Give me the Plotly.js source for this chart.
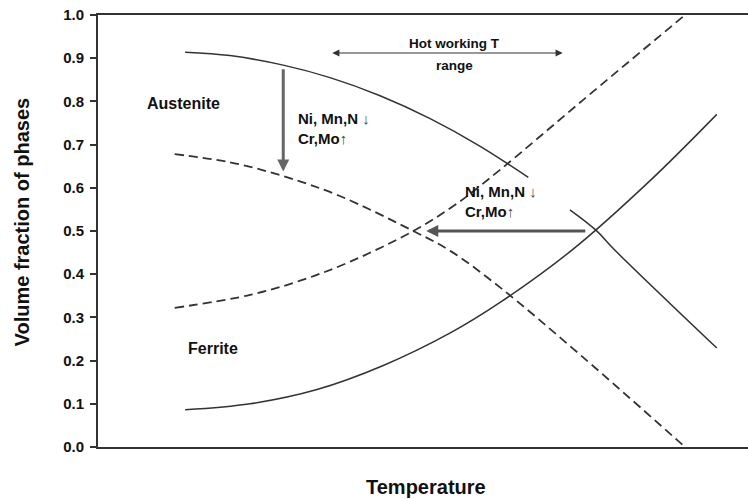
<!DOCTYPE html>
<html>
<head>
<meta charset="utf-8">
<script src="https://cdn.plot.ly/plotly-3.0.1.min.js"></script>
<style>html,body{margin:0;padding:0;background:#fff;}#chart{width:748px;height:499px;}</style>
</head>
<body>
<div id="chart"></div>
<script>
// Temperature in arbitrary units (0-100 across the plot), volume fraction 0-1
const austeniteSolidT1 = [13.4, 20.3, 28.5, 35.7, 43.4, 51.1, 58.8, 66.2];
const austeniteSolidV1 = [0.914, 0.906, 0.884, 0.855, 0.813, 0.760, 0.696, 0.624];
const austeniteSolidT2 = [72.6, 76.6, 79.5, 95.2];
const austeniteSolidV2 = [0.549, 0.502, 0.456, 0.229];
const austeniteDashT = [11.8, 20.3, 28.5, 37.2, 48.5, 54.2, 61.8, 74.6, 90.3];
const austeniteDashV = [0.678, 0.659, 0.627, 0.581, 0.500, 0.454, 0.370, 0.208, 0.0];
const ferriteDashT = [11.8, 23.4, 31.1, 38.8, 48.5, 54.9, 61.8, 74.6, 90.3];
const ferriteDashV = [0.322, 0.352, 0.385, 0.429, 0.500, 0.560, 0.641, 0.803, 1.0];
const ferriteSolidT = [13.4, 23.4, 33.7, 43.8, 54.2, 61.8, 73.1, 84.9, 95.2];
const ferriteSolidV = [0.086, 0.100, 0.133, 0.188, 0.264, 0.334, 0.458, 0.616, 0.770];
const yTicks = [0, 0.1, 0.2, 0.3, 0.4, 0.5, 0.6, 0.7, 0.8, 0.9, 1.0];

const FONT = '"Liberation Sans", Arial, sans-serif';
const solid = {color: '#333', width: 1.5, shape: 'spline'};
const dashed = {color: '#333', width: 1.8, dash: '9px,5px', shape: 'spline'};

const traces = [
  {x: austeniteSolidT1, y: austeniteSolidV1, mode: 'lines', line: solid},
  {x: austeniteSolidT2, y: austeniteSolidV2, mode: 'lines', line: solid},
  {x: austeniteDashT, y: austeniteDashV, mode: 'lines', line: dashed},
  {x: ferriteDashT, y: ferriteDashV, mode: 'lines', line: dashed},
  {x: ferriteSolidT, y: ferriteSolidV, mode: 'lines', line: solid}
];

const txt = (s, size, extra) => Object.assign({
  text: s, showarrow: false, xref: 'x', yref: 'y',
  font: {family: FONT, size: size, color: '#111', weight: 700}
}, extra);

const alloyText = 'Ni, Mn,N <span style="color:#444">↓</span><br>Cr,Mo<span style="color:#444">↑</span>';

const annotations = [
  txt('Austenite', 16, {x: 13.1, y: 0.794}),
  txt('Ferrite', 16, {x: 17.7, y: 0.229}),
  txt(alloyText, 15, {x: 30.5, y: 0.737, xanchor: 'left', align: 'left'}),
  txt(alloyText, 15, {x: 56.2, y: 0.568, xanchor: 'left', align: 'left'}),
  txt('Hot working T', 13.5, {x: 54.9, y: 0.933}),
  txt('range', 13.5, {x: 54.9, y: 0.884}),
  // double arrow: hot working range
  {x: 71.5, y: 0.912, ax: 35.8, ay: 0.912, xref: 'x', yref: 'y', axref: 'x', ayref: 'y',
   showarrow: true, arrowside: 'end+start', arrowhead: 2, arrowsize: 1.2, arrowwidth: 1.2, arrowcolor: '#333', text: ''},
  // vertical arrow
  {x: 28.5, y: 0.638, ax: 28.5, ay: 0.878, xref: 'x', yref: 'y', axref: 'x', ayref: 'y',
   showarrow: true, arrowhead: 2, arrowsize: 0.8, arrowwidth: 3, arrowcolor: '#666', text: ''},
  // horizontal arrow
  {x: 50.5, y: 0.5, ax: 75.2, ay: 0.5, xref: 'x', yref: 'y', axref: 'x', ayref: 'y',
   showarrow: true, arrowhead: 2, arrowsize: 0.8, arrowwidth: 3, arrowcolor: '#555', text: ''},
  // axis titles
  {text: 'Volume fraction of phases', xref: 'paper', yref: 'paper', x: -0.1177, y: 0.521,
   textangle: -90, showarrow: false, xanchor: 'center', yanchor: 'middle',
   font: {family: FONT, size: 20, color: '#111', weight: 700}},
  {text: 'Temperature', xref: 'paper', yref: 'paper', x: 0.505, y: -0.0926,
   showarrow: false, xanchor: 'center', yanchor: 'middle',
   font: {family: FONT, size: 20, color: '#111', weight: 700}}
];

const layout = {
  width: 748, height: 499,
  margin: {l: 98, r: 0, t: 15, b: 52},
  paper_bgcolor: '#fff', plot_bgcolor: '#fff',
  showlegend: false,
  xaxis: {range: [0, 100], showline: true, mirror: true, linecolor: '#333', linewidth: 2,
          showgrid: false, zeroline: false, showticklabels: false, ticks: ''},
  yaxis: {range: [0, 1], tickvals: yTicks, tickformat: '.1f', ticks: 'outside', ticklen: 6,
          tickwidth: 2, tickcolor: '#333', showline: true, linecolor: '#333', linewidth: 2,
          showgrid: false, zeroline: false, ticklabelstandoff: 3,
          tickfont: {family: FONT, size: 15, color: '#111', weight: 700}},
  annotations: annotations
};

Plotly.newPlot('chart', traces, layout, {displayModeBar: false, staticPlot: true});
</script>
</body>
</html>
